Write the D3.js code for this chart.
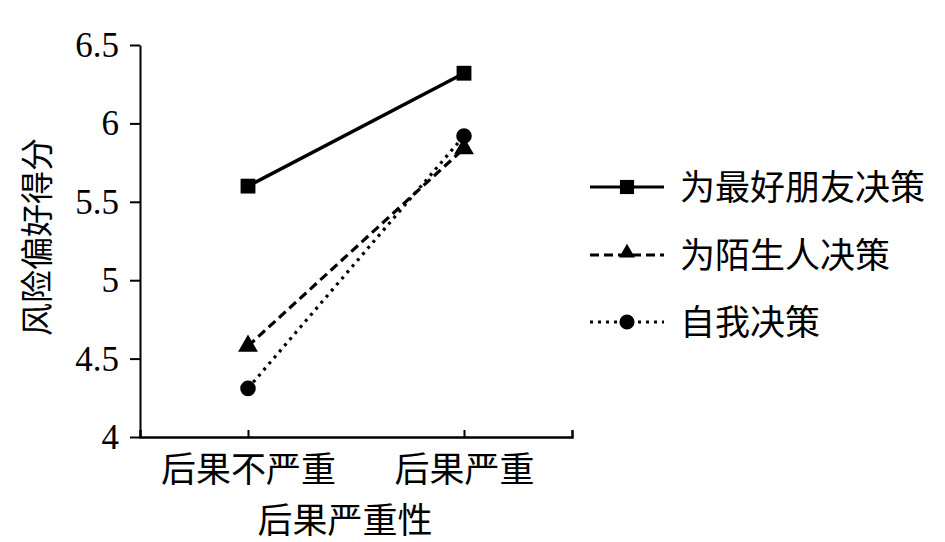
<!DOCTYPE html>
<html>
<head>
<meta charset="utf-8">
<script src="https://cdn.jsdelivr.net/npm/d3@7"></script>
<style>
  html, body { margin: 0; padding: 0; background: #fff; }
  svg { display: block; }
  text { font-family: "Liberation Serif", "Noto Sans CJK SC", serif; fill: #000; }
</style>
</head>
<body>
<svg id="chart" width="945" height="542"></svg>
<script>
// ---- data ----
const categories = ["后果不严重", "后果严重"];
const seriesNames = ["为最好朋友决策", "为陌生人决策", "自我决策"];
const bestFriend = [5.60, 6.32];
const stranger = [4.58, 5.84];
const self = [4.31, 5.92];
const yTicks = [4, 4.5, 5, 5.5, 6, 6.5];
const yTickLabels = ["4", "4.5", "5", "5.5", "6", "6.5"];
const xTitle = "后果严重性";
const yTitle = "风险偏好得分";

const seriesValues = [bestFriend, stranger, self];
const dashes = [null, "9,5", "3,5"];
const markers = [d3.symbolSquare, d3.symbolTriangle, d3.symbolCircle];
const markerSize = [220, 170, 190];
const legendMarkerSize = [200, 110, 180];

const svg = d3.select("#chart");

const x = d3.scalePoint().domain(categories).range([140, 572]).padding(0.5);
const y = d3.scaleLinear().domain([4, 6.5]).range([437, 45]);

// y axis
const yAxis = d3.axisLeft(y)
  .tickValues(yTicks)
  .tickFormat((d, i) => yTickLabels[i])
  .tickSize(10)
  .tickSizeOuter(0)
  .tickPadding(11);
const gy = svg.append("g").attr("transform", "translate(140,0)").call(yAxis);
gy.select(".domain").attr("stroke", "#000").attr("stroke-width", 2);
gy.selectAll(".tick line").attr("stroke", "#000").attr("stroke-width", 2);
gy.selectAll(".tick text")
  .style("font-family", '"Liberation Serif", serif')
  .style("font-size", "35px")
  .attr("dy", "0.33em");

// x axis
const xAxis = d3.axisBottom(x)
  .tickSize(-7)
  .tickSizeOuter(-7)
  .tickPadding(22);
const gx = svg.append("g").attr("transform", "translate(0,437)").call(xAxis);
gx.select(".domain").attr("stroke", "#000").attr("stroke-width", 2.5);
gx.selectAll(".tick line").attr("stroke", "#000").attr("stroke-width", 2);
gx.selectAll(".tick text")
  .style("font-size", "35px")
  .attr("y", 20)
  .attr("dy", "0.71em");

// axis titles
svg.append("text")
  .attr("x", 345).attr("y", 533)
  .attr("text-anchor", "middle")
  .style("font-size", "35px")
  .text(xTitle);

svg.append("text")
  .attr("transform", "translate(49,237) rotate(-90)")
  .attr("text-anchor", "middle")
  .style("font-size", "33px")
  .text(yTitle);

// series
const line = d3.line().x((d, i) => x(categories[i])).y(d => y(d));
seriesValues.forEach((vals, si) => {
  const g = svg.append("g");
  g.append("path")
    .datum(vals)
    .attr("d", line)
    .attr("fill", "none")
    .attr("stroke", "#000")
    .attr("stroke-width", si === 0 ? 3.5 : 3.2)
    .attr("stroke-dasharray", dashes[si]);
  g.selectAll("path.m")
    .data(vals)
    .join("path")
    .attr("class", "m")
    .attr("d", d3.symbol().type(markers[si]).size(markerSize[si]))
    .attr("transform", (d, i) => `translate(${x(categories[i])},${y(d)})`)
    .attr("fill", "#000");
});

// legend
const legendY = [187, 255, 322];
seriesNames.forEach((name, si) => {
  const g = svg.append("g").attr("transform", `translate(0,${legendY[si]})`);
  g.append("line")
    .attr("x1", 590).attr("x2", 664)
    .attr("y1", 0).attr("y2", 0)
    .attr("stroke", "#000")
    .attr("stroke-width", 3.2)
    .attr("stroke-dasharray", dashes[si]);
  g.append("path")
    .attr("d", d3.symbol().type(markers[si]).size(legendMarkerSize[si]))
    .attr("transform", `translate(627,${si === 1 ? -2 : 0})`)
    .attr("fill", "#000");
  g.append("text")
    .attr("x", 680).attr("y", 0)
    .attr("dy", "0.36em")
    .style("font-size", "35px")
    .text(name);
});
</script>
</body>
</html>
